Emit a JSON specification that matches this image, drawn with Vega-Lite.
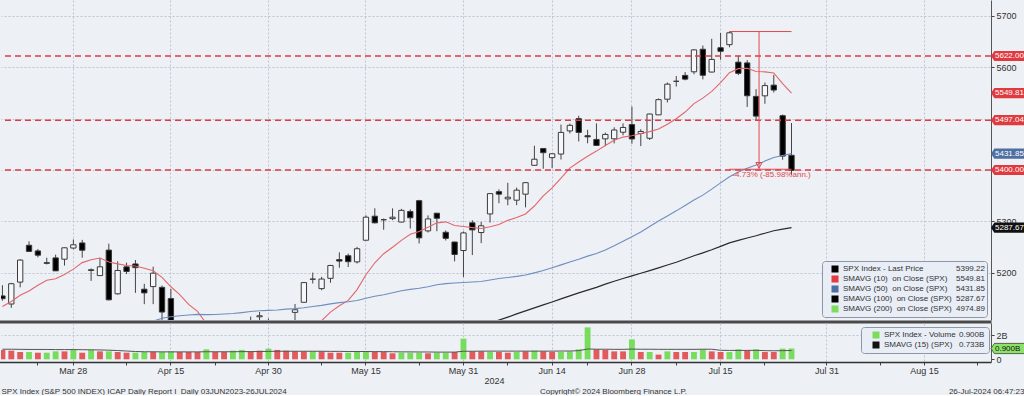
{
"$schema": "https://vega.github.io/schema/vega-lite/v6.json",
"padding": 0,
"autosize": {"type": "pad"},
"background": "#edf0f5",
"spacing": 3,
"bounds": "flush",
"config": {
  "font": "Liberation Sans",
  "view": {"fill": "#e3e9f4", "stroke": null},
  "axis": {"labelFont": "Liberation Sans", "labelFontSize": 9, "labelColor": "#333333", "tickColor": "#444444", "tickSize": 3, "domainColor": "#555555", "gridColor": "#bcc4d2", "gridDash": [2, 2], "titleFont": "Liberation Sans", "titleFontWeight": "normal", "titleFontSize": 8, "titleColor": "#333333", "labelOverlap": false},
  "legend": {"labelFont": "Liberation Sans", "labelFontSize": 8, "labelColor": "#333333"},
  "text": {"font": "Liberation Sans"}
},
"resolve": {"scale": {"x": "independent", "y": "independent", "fill": "independent", "shape": "independent"}, "legend": {"fill": "independent", "shape": "independent"}},
"datasets": {
"px": [
{"d":"2024-03-18","o":5154.77,"h":5175.60,"l":5145.47,"c":5149.42,"m10":5134.00,"v":0.78,"vd":"dn","vm":0.84},
{"d":"2024-03-19","o":5139.09,"h":5180.31,"l":5131.59,"c":5178.51,"m10":5143.98,"v":0.72,"vd":"dn","vm":0.84},
{"d":"2024-03-20","o":5181.69,"h":5226.19,"l":5171.55,"c":5224.62,"m10":5155.97,"v":0.61,"vd":"dn","vm":0.83},
{"d":"2024-03-21","o":5253.43,"h":5261.10,"l":5240.66,"c":5241.53,"m10":5164.39,"v":0.61,"vd":"up","vm":0.82},
{"d":"2024-03-22","o":5242.48,"h":5246.09,"l":5229.87,"c":5234.18,"m10":5175.44,"v":0.55,"vd":"dn","vm":0.82},
{"d":"2024-03-25","o":5219.52,"h":5229.09,"l":5216.09,"c":5218.19,"m10":5185.46,"v":0.55,"vd":"up","vm":0.82},
{"d":"2024-03-26","o":5228.85,"h":5235.16,"l":5203.42,"c":5203.58,"m10":5188.29,"v":0.66,"vd":"up","vm":0.81},
{"d":"2024-03-27","o":5226.31,"h":5249.26,"l":5213.92,"c":5248.49,"m10":5196.61,"v":0.66,"vd":"dn","vm":0.81},
{"d":"2024-03-28","o":5248.03,"h":5264.85,"l":5245.82,"c":5254.35,"m10":5207.00,"v":0.78,"vd":"up","vm":0.81},
{"d":"2024-04-01","o":5257.97,"h":5263.95,"l":5229.20,"c":5243.77,"m10":5219.66,"v":0.55,"vd":"dn","vm":0.80},
{"d":"2024-04-02","o":5204.29,"h":5208.34,"l":5184.05,"c":5205.81,"m10":5225.30,"v":0.78,"vd":"up","vm":0.79},
{"d":"2024-04-03","o":5194.37,"h":5228.75,"l":5194.37,"c":5211.49,"m10":5228.60,"v":0.66,"vd":"dn","vm":0.78},
{"d":"2024-04-04","o":5244.05,"h":5256.59,"l":5146.06,"c":5147.21,"m10":5220.86,"v":0.66,"vd":"up","vm":0.76},
{"d":"2024-04-05","o":5158.95,"h":5222.18,"l":5157.21,"c":5204.34,"m10":5217.14,"v":0.61,"vd":"dn","vm":0.73},
{"d":"2024-04-08","o":5211.37,"h":5219.57,"l":5197.35,"c":5202.39,"m10":5213.96,"v":0.55,"vd":"dn","vm":0.69},
{"d":"2024-04-09","o":5217.03,"h":5224.81,"l":5160.78,"c":5209.91,"m10":5213.13,"v":0.55,"vd":"up","vm":0.65},
{"d":"2024-04-10","o":5167.88,"h":5178.43,"l":5138.70,"c":5160.64,"m10":5208.84,"m50":5100.14,"v":0.61,"vd":"up","vm":0.63},
{"d":"2024-04-11","o":5172.95,"h":5211.78,"l":5138.77,"c":5199.06,"m10":5203.90,"m50":5105.62,"v":0.61,"vd":"dn","vm":0.63},
{"d":"2024-04-12","o":5171.51,"h":5175.03,"l":5107.94,"c":5123.41,"m10":5190.80,"m50":5111.17,"v":0.61,"vd":"up","vm":0.62},
{"d":"2024-04-15","o":5149.67,"h":5168.43,"l":5052.47,"c":5061.82,"m10":5172.61,"m50":5114.29,"v":0.66,"vd":"up","vm":0.62},
{"d":"2024-04-16","o":5064.59,"h":5079.84,"l":5039.83,"c":5051.41,"m10":5157.17,"m50":5116.14,"v":0.61,"vd":"dn","vm":0.62},
{"d":"2024-04-17","o":5068.97,"h":5077.96,"l":5007.25,"c":5022.21,"m10":5138.24,"m50":5117.73,"v":0.61,"vd":"dn","vm":0.62},
{"d":"2024-04-18","o":5031.52,"h":5056.66,"l":5001.89,"c":5011.12,"m10":5124.63,"m50":5118.87,"v":0.61,"vd":"dn","vm":0.62},
{"d":"2024-04-19","o":5005.44,"h":5019.02,"l":4953.56,"c":4967.23,"m10":5100.92,"m50":5118.31,"v":0.83,"vd":"up","vm":0.63},
{"d":"2024-04-22","o":4987.33,"h":5038.84,"l":4969.40,"c":5010.60,"m10":5081.74,"m50":5118.57,"v":0.61,"vd":"dn","vm":0.63},
{"d":"2024-04-23","o":5028.85,"h":5076.12,"l":5027.96,"c":5070.55,"m10":5067.81,"m50":5119.44,"v":0.61,"vd":"dn","vm":0.63},
{"d":"2024-04-24","o":5084.86,"h":5089.48,"l":5047.02,"c":5071.63,"m10":5058.90,"m50":5120.44,"v":0.72,"vd":"up","vm":0.63},
{"d":"2024-04-25","o":5019.88,"h":5057.75,"l":4990.58,"c":5048.42,"m10":5043.84,"m50":5122.35,"v":0.78,"vd":"up","vm":0.64},
{"d":"2024-04-26","o":5084.65,"h":5114.62,"l":5073.14,"c":5099.96,"m10":5041.50,"m50":5124.33,"v":0.66,"vd":"dn","vm":0.64},
{"d":"2024-04-29","o":5114.13,"h":5123.49,"l":5088.65,"c":5116.17,"m10":5046.93,"m50":5126.06,"v":0.72,"vd":"dn","vm":0.65},
{"d":"2024-04-30","o":5103.78,"h":5110.83,"l":5035.31,"c":5035.69,"m10":5045.36,"m50":5126.66,"v":0.89,"vd":"up","vm":0.66},
{"d":"2024-05-01","o":5029.03,"h":5096.12,"l":5013.45,"c":5018.39,"m10":5044.98,"m50":5127.52,"v":0.78,"vd":"dn","vm":0.67},
{"d":"2024-05-02","o":5049.32,"h":5073.21,"l":5011.05,"c":5064.20,"m10":5050.28,"m50":5129.17,"v":0.72,"vd":"dn","vm":0.67},
{"d":"2024-05-03","o":5122.78,"h":5139.12,"l":5101.22,"c":5127.79,"m10":5066.34,"m50":5129.98,"v":0.66,"vd":"dn","vm":0.67},
{"d":"2024-05-06","o":5142.42,"h":5181.00,"l":5142.42,"c":5180.74,"m10":5083.35,"m50":5131.82,"v":0.66,"vd":"dn","vm":0.67},
{"d":"2024-05-07","o":5187.20,"h":5200.23,"l":5178.96,"c":5187.70,"m10":5095.07,"m50":5134.19,"v":0.66,"vd":"up","vm":0.67},
{"d":"2024-05-08","o":5168.98,"h":5191.95,"l":5165.86,"c":5187.67,"m10":5106.67,"m50":5136.38,"v":0.66,"vd":"dn","vm":0.67},
{"d":"2024-05-09","o":5189.03,"h":5215.30,"l":5180.41,"c":5214.08,"m10":5123.24,"m50":5139.26,"v":0.55,"vd":"dn","vm":0.66},
{"d":"2024-05-10","o":5225.49,"h":5239.66,"l":5209.68,"c":5222.68,"m10":5135.51,"m50":5141.79,"v":0.55,"vd":"dn","vm":0.66},
{"d":"2024-05-13","o":5233.08,"h":5237.26,"l":5211.16,"c":5221.42,"m10":5146.04,"m50":5143.48,"v":0.55,"vd":"up","vm":0.65},
{"d":"2024-05-14","o":5221.10,"h":5250.37,"l":5217.98,"c":5246.68,"m10":5167.14,"m50":5145.79,"v":0.61,"vd":"up","vm":0.65},
{"d":"2024-05-15","o":5263.26,"h":5311.76,"l":5263.26,"c":5308.15,"m10":5196.11,"m50":5150.38,"v":0.66,"vd":"up","vm":0.65},
{"d":"2024-05-16","o":5310.07,"h":5325.49,"l":5296.19,"c":5297.10,"m10":5219.40,"m50":5154.23,"v":0.61,"vd":"dn","vm":0.64},
{"d":"2024-05-17","o":5303.10,"h":5305.45,"l":5283.59,"c":5303.27,"m10":5236.95,"m50":5157.15,"v":0.61,"vd":"dn","vm":0.64},
{"d":"2024-05-20","o":5305.35,"h":5325.32,"l":5302.40,"c":5308.13,"m10":5249.69,"m50":5160.84,"v":0.50,"vd":"dn","vm":0.63},
{"d":"2024-05-21","o":5298.69,"h":5324.32,"l":5297.87,"c":5321.41,"m10":5263.06,"m50":5164.91,"v":0.55,"vd":"up","vm":0.62},
{"d":"2024-05-22","o":5319.28,"h":5323.18,"l":5286.01,"c":5307.01,"m10":5274.99,"m50":5167.54,"v":0.55,"vd":"up","vm":0.62},
{"d":"2024-05-23","o":5340.26,"h":5341.88,"l":5256.93,"c":5267.84,"m10":5280.37,"m50":5169.59,"v":0.55,"vd":"up","vm":0.61},
{"d":"2024-05-24","o":5281.45,"h":5311.65,"l":5278.39,"c":5304.72,"m10":5288.57,"m50":5172.68,"v":0.50,"vd":"dn","vm":0.61},
{"d":"2024-05-28","o":5315.91,"h":5315.91,"l":5280.89,"c":5306.04,"m10":5297.04,"m50":5176.45,"v":0.55,"vd":"up","vm":0.60},
{"d":"2024-05-29","o":5278.73,"h":5282.27,"l":5262.70,"c":5266.95,"m10":5299.06,"m50":5178.81,"v":0.55,"vd":"up","vm":0.60},
{"d":"2024-05-30","o":5259.77,"h":5260.21,"l":5222.10,"c":5235.48,"m10":5291.80,"m50":5179.94,"v":0.61,"vd":"dn","vm":0.60},
{"d":"2024-05-31","o":5243.21,"h":5280.33,"l":5191.68,"c":5277.51,"m10":5289.84,"m50":5181.00,"v":1.72,"vd":"up","vm":0.67},
{"d":"2024-06-03","o":5297.15,"h":5302.11,"l":5234.32,"c":5283.40,"m10":5287.85,"m50":5181.84,"v":0.66,"vd":"dn","vm":0.67},
{"d":"2024-06-04","o":5278.24,"h":5298.80,"l":5257.63,"c":5291.34,"m10":5286.17,"m50":5182.98,"v":0.66,"vd":"dn","vm":0.68},
{"d":"2024-06-05","o":5314.48,"h":5354.16,"l":5297.64,"c":5354.03,"m10":5289.43,"m50":5185.70,"m100":5102.06,"v":0.61,"vd":"up","vm":0.68},
{"d":"2024-06-06","o":5357.80,"h":5362.35,"l":5335.36,"c":5352.96,"m10":5294.03,"m50":5188.69,"m100":5107.75,"v":0.61,"vd":"dn","vm":0.68},
{"d":"2024-06-07","o":5343.81,"h":5375.08,"l":5331.33,"c":5346.99,"m10":5301.94,"m50":5190.66,"m100":5113.56,"v":0.55,"vd":"dn","vm":0.68},
{"d":"2024-06-10","o":5341.22,"h":5365.79,"l":5331.52,"c":5360.79,"m10":5307.55,"m50":5192.79,"m100":5119.78,"v":0.61,"vd":"up","vm":0.68},
{"d":"2024-06-11","o":5353.00,"h":5375.95,"l":5327.25,"c":5375.32,"m10":5314.48,"m50":5195.42,"m100":5125.72,"v":0.66,"vd":"dn","vm":0.68},
{"d":"2024-06-12","o":5409.13,"h":5447.25,"l":5409.13,"c":5421.03,"m10":5329.89,"m50":5199.72,"m100":5131.54,"v":0.72,"vd":"up","vm":0.68},
{"d":"2024-06-13","o":5441.93,"h":5441.93,"l":5402.51,"c":5433.74,"m10":5349.71,"m50":5204.17,"m100":5137.37,"v":0.66,"vd":"dn","vm":0.68},
{"d":"2024-06-14","o":5424.08,"h":5432.39,"l":5403.75,"c":5431.60,"m10":5365.12,"m50":5209.85,"m100":5143.04,"v":0.61,"vd":"dn","vm":0.68},
{"d":"2024-06-17","o":5431.11,"h":5488.50,"l":5420.40,"c":5473.23,"m10":5384.10,"m50":5215.23,"m100":5149.09,"v":0.61,"vd":"up","vm":0.69},
{"d":"2024-06-18","o":5476.15,"h":5490.38,"l":5471.32,"c":5487.03,"m10":5403.67,"m50":5220.93,"m100":5155.01,"v":0.66,"vd":"up","vm":0.69},
{"d":"2024-06-20","o":5499.99,"h":5505.53,"l":5455.56,"c":5473.17,"m10":5415.59,"m50":5226.19,"m100":5160.84,"v":0.83,"vd":"up","vm":0.72},
{"d":"2024-06-21","o":5466.77,"h":5478.31,"l":5452.03,"c":5464.62,"m10":5426.75,"m50":5232.27,"m100":5166.20,"v":2.66,"vd":"up","vm":0.86},
{"d":"2024-06-24","o":5459.58,"h":5490.66,"l":5447.59,"c":5447.87,"m10":5436.84,"m50":5237.25,"m100":5171.43,"v":0.83,"vd":"dn","vm":0.84},
{"d":"2024-06-25","o":5460.73,"h":5472.88,"l":5446.56,"c":5469.30,"m10":5447.69,"m50":5244.16,"m100":5177.67,"v":0.78,"vd":"dn","vm":0.84},
{"d":"2024-06-26","o":5460.71,"h":5483.14,"l":5451.87,"c":5477.90,"m10":5457.95,"m50":5252.49,"m100":5183.39,"v":0.66,"vd":"dn","vm":0.83},
{"d":"2024-06-27","o":5473.59,"h":5490.81,"l":5467.54,"c":5482.87,"m10":5464.13,"m50":5261.11,"m100":5188.63,"v":0.66,"vd":"dn","vm":0.83},
{"d":"2024-06-28","o":5488.48,"h":5523.64,"l":5451.12,"c":5460.48,"m10":5466.81,"m50":5269.88,"m100":5193.81,"v":1.66,"vd":"up","vm":0.85},
{"d":"2024-07-01","o":5471.08,"h":5479.55,"l":5446.53,"c":5475.09,"m10":5471.16,"m50":5279.16,"m100":5199.01,"v":0.61,"vd":"dn","vm":0.84},
{"d":"2024-07-02","o":5461.84,"h":5509.69,"l":5458.43,"c":5509.01,"m10":5474.73,"m50":5289.99,"m100":5204.15,"v":0.61,"vd":"up","vm":0.84},
{"d":"2024-07-03","o":5507.44,"h":5539.27,"l":5507.42,"c":5537.02,"m10":5479.73,"m50":5300.52,"m100":5209.54,"v":0.39,"vd":"dn","vm":0.83},
{"d":"2024-07-05","o":5537.91,"h":5570.33,"l":5531.63,"c":5567.19,"m10":5489.14,"m50":5310.46,"m100":5214.95,"v":0.66,"vd":"up","vm":0.83},
{"d":"2024-07-08","o":5572.75,"h":5583.11,"l":5562.51,"c":5572.85,"m10":5499.96,"m50":5320.48,"m100":5220.46,"v":0.61,"vd":"dn","vm":0.83},
{"d":"2024-07-09","o":5584.24,"h":5590.75,"l":5574.57,"c":5576.98,"m10":5512.87,"m50":5331.05,"m100":5226.70,"v":0.61,"vd":"dn","vm":0.83},
{"d":"2024-07-10","o":5591.26,"h":5635.39,"l":5586.44,"c":5633.91,"m10":5529.33,"m50":5341.73,"m100":5233.03,"v":0.61,"vd":"up","vm":0.83},
{"d":"2024-07-11","o":5635.21,"h":5642.45,"l":5576.53,"c":5584.54,"m10":5539.99,"m50":5351.10,"m100":5238.58,"v":0.83,"vd":"up","vm":0.84},
{"d":"2024-07-12","o":5590.76,"h":5655.56,"l":5590.44,"c":5615.35,"m10":5553.24,"m50":5362.69,"m100":5244.68,"v":0.66,"vd":"dn","vm":0.84},
{"d":"2024-07-15","o":5638.16,"h":5666.94,"l":5614.75,"c":5631.22,"m10":5570.32,"m50":5374.95,"m100":5251.23,"v":0.61,"vd":"dn","vm":0.75},
{"d":"2024-07-16","o":5644.09,"h":5669.67,"l":5639.02,"c":5667.20,"m10":5589.53,"m50":5387.01,"m100":5258.09,"v":0.61,"vd":"up","vm":0.74},
{"d":"2024-07-17","o":5610.07,"h":5622.49,"l":5584.81,"c":5588.27,"m10":5597.45,"m50":5396.22,"m100":5263.10,"v":0.83,"vd":"up","vm":0.74},
{"d":"2024-07-18","o":5608.56,"h":5614.05,"l":5522.81,"c":5544.59,"m10":5598.21,"m50":5403.49,"m100":5267.66,"v":0.72,"vd":"dn","vm":0.74},
{"d":"2024-07-19","o":5543.37,"h":5557.50,"l":5497.04,"c":5505.00,"m10":5591.99,"m50":5409.84,"m100":5272.01,"v":0.83,"vd":"up","vm":0.75},
{"d":"2024-07-22","o":5544.44,"h":5570.36,"l":5529.04,"c":5564.41,"m10":5591.15,"m50":5417.38,"m100":5276.88,"v":0.61,"vd":"dn","vm":0.72},
{"d":"2024-07-23","o":5565.30,"h":5585.34,"l":5550.90,"c":5555.74,"m10":5589.02,"m50":5424.21,"m100":5281.74,"v":0.61,"vd":"dn","vm":0.71},
{"d":"2024-07-24","o":5505.84,"h":5508.04,"l":5419.98,"c":5427.13,"m10":5568.35,"m50":5428.30,"m100":5285.04,"v":0.89,"vd":"up","vm":0.72},
{"d":"2024-07-25","o":5428.70,"h":5491.59,"l":5390.95,"c":5399.22,"m10":5549.81,"m50":5431.85,"m100":5287.67,"v":0.90,"vd":"up","vm":0.733}
],
"levels": [{"v": 5622.00}, {"v": 5497.04}, {"v": 5400.00}],
"tags": [{"v": 5622.00, "k": "lvl"}, {"v": 5549.81, "k": "m10"}, {"v": 5497.04, "k": "lvl"}, {"v": 5431.85, "k": "m50"}, {"v": 5400.00, "k": "lvl"}, {"v": 5287.67, "k": "m100"}],
"measH": [{"d": "2024-07-16", "d2": "2024-07-25", "hi": 5669.67, "lo": 5401.5, "t": "-4.73% (-85.98%ann.)"}],
"measV": [{"d": "2024-07-19", "hi": 5669.67, "lo": 5401.5}],
"leg1": [
  {"name": "SPX Index - Last Price", "val": "5399.22"},
  {"name": "SMAVG (10)\u00a0 on Close (SPX)", "val": "5549.81"},
  {"name": "SMAVG (50)\u00a0 on Close (SPX)", "val": "5431.85"},
  {"name": "SMAVG (100)\u00a0 on Close (SPX)", "val": "5287.67"},
  {"name": "SMAVG (200)\u00a0 on Close (SPX)", "val": "4974.89"}
],
"vtag": [{"v": 0.9, "t": "0.900B"}],
"leg2": [
  {"vname": "SPX Index - Volume", "vval": "0.900B"},
  {"vname": "SMAVG (15) (SPX)", "vval": "0.733B"}
]
},
"vconcat": [
{
"width": 990, "height": 320,
"layer": [
  {"data": {"name": "px"},
   "encoding": {"x": {"field": "d", "type": "ordinal",
     "scale": {"domain": ["2024-03-18","2024-03-19","2024-03-20","2024-03-21","2024-03-22","2024-03-25","2024-03-26","2024-03-27","2024-03-28","2024-04-01","2024-04-02","2024-04-03","2024-04-04","2024-04-05","2024-04-08","2024-04-09","2024-04-10","2024-04-11","2024-04-12","2024-04-15","2024-04-16","2024-04-17","2024-04-18","2024-04-19","2024-04-22","2024-04-23","2024-04-24","2024-04-25","2024-04-26","2024-04-29","2024-04-30","2024-05-01","2024-05-02","2024-05-03","2024-05-06","2024-05-07","2024-05-08","2024-05-09","2024-05-10","2024-05-13","2024-05-14","2024-05-15","2024-05-16","2024-05-17","2024-05-20","2024-05-21","2024-05-22","2024-05-23","2024-05-24","2024-05-28","2024-05-29","2024-05-30","2024-05-31","2024-06-03","2024-06-04","2024-06-05","2024-06-06","2024-06-07","2024-06-10","2024-06-11","2024-06-12","2024-06-13","2024-06-14","2024-06-17","2024-06-18","2024-06-20","2024-06-21","2024-06-24","2024-06-25","2024-06-26","2024-06-27","2024-06-28","2024-07-01","2024-07-02","2024-07-03","2024-07-05","2024-07-08","2024-07-09","2024-07-10","2024-07-11","2024-07-12","2024-07-15","2024-07-16","2024-07-17","2024-07-18","2024-07-19","2024-07-22","2024-07-23","2024-07-24","2024-07-25","2024-07-26","2024-07-29","2024-07-30","2024-07-31","2024-08-01","2024-08-02","2024-08-05","2024-08-06","2024-08-07","2024-08-08","2024-08-09","2024-08-12","2024-08-13","2024-08-14","2024-08-15","2024-08-16","2024-08-19","2024-08-20","2024-08-21","2024-08-22","2024-08-23","2024-08-26"], "range": [-3, 990], "paddingInner": 0, "paddingOuter": 0},
     "axis": {"values": ["2024-03-28","2024-04-15","2024-04-30","2024-05-15","2024-05-31","2024-06-14","2024-06-28","2024-07-15","2024-07-31","2024-08-15"], "labels": false, "ticks": false, "grid": true, "domainWidth": 3, "domainColor": "#4a4a4a", "offset": 1.5, "title": "Copyright\u00a9 2024 Bloomberg Finance L.P.", "titleX": 612, "titleY": 69.5, "titleAlign": "center", "titleBaseline": "middle"}}},
   "layer": [
     {"mark": {"type": "rule", "color": "#444444", "strokeWidth": 1, "clip": true},
      "encoding": {"y": {"field": "l", "type": "quantitative", "scale": {"domain": [5107.9, 5731.1], "nice": false, "zero": false},
        "axis": {"orient": "right", "values": [5200, 5300, 5400, 5500, 5600, 5700], "format": "d", "labelOverlap": false, "labels": true, "ticks": true, "grid": true, "labelPadding": 2, "labelColor": "#333333", "labelFontSize": 9, "title": "26-Jul-2024 06:47:23", "titleAngle": 0, "titleX": 33, "titleY": 391, "titleAlign": "right", "titleBaseline": "middle"}},
        "y2": {"field": "h"}}},
     {"mark": {"type": "bar", "clip": true, "width": {"band": 0.6}, "stroke": "#3a3a3a", "strokeWidth": 1},
      "encoding": {"y": {"field": "o", "type": "quantitative", "scale": {"domain": [5107.9, 5731.1], "nice": false, "zero": false}}, "y2": {"field": "c"},
        "fill": {"condition": {"test": "datum.c < datum.o", "value": "#000000"}, "value": "#f6f7fa"}}},
     {"mark": {"type": "line", "clip": true, "color": "#e2676c", "strokeWidth": 1.1},
      "encoding": {"y": {"field": "m10", "type": "quantitative", "scale": {"domain": [5107.9, 5731.1], "nice": false, "zero": false}}}},
     {"mark": {"type": "line", "clip": true, "color": "#6f8ec0", "strokeWidth": 1.1},
      "encoding": {"y": {"field": "m50", "type": "quantitative", "scale": {"domain": [5107.9, 5731.1], "nice": false, "zero": false}}}},
     {"mark": {"type": "line", "clip": true, "color": "#2a2a2a", "strokeWidth": 1.2},
      "encoding": {"y": {"field": "m100", "type": "quantitative", "scale": {"domain": [5107.9, 5731.1], "nice": false, "zero": false}}}}
   ]},
  {"data": {"name": "levels"},
   "mark": {"type": "rule", "color": "#e03a3f", "strokeWidth": 1.5, "strokeDash": [6, 4]},
   "encoding": {"y": {"field": "v", "type": "quantitative", "scale": {"domain": [5107.9, 5731.1], "nice": false, "zero": false}}}},
  {"data": {"name": "measH"},
   "encoding": {"x": {"field": "d", "type": "ordinal", "scale": {"domain": ["2024-03-18","2024-03-19","2024-03-20","2024-03-21","2024-03-22","2024-03-25","2024-03-26","2024-03-27","2024-03-28","2024-04-01","2024-04-02","2024-04-03","2024-04-04","2024-04-05","2024-04-08","2024-04-09","2024-04-10","2024-04-11","2024-04-12","2024-04-15","2024-04-16","2024-04-17","2024-04-18","2024-04-19","2024-04-22","2024-04-23","2024-04-24","2024-04-25","2024-04-26","2024-04-29","2024-04-30","2024-05-01","2024-05-02","2024-05-03","2024-05-06","2024-05-07","2024-05-08","2024-05-09","2024-05-10","2024-05-13","2024-05-14","2024-05-15","2024-05-16","2024-05-17","2024-05-20","2024-05-21","2024-05-22","2024-05-23","2024-05-24","2024-05-28","2024-05-29","2024-05-30","2024-05-31","2024-06-03","2024-06-04","2024-06-05","2024-06-06","2024-06-07","2024-06-10","2024-06-11","2024-06-12","2024-06-13","2024-06-14","2024-06-17","2024-06-18","2024-06-20","2024-06-21","2024-06-24","2024-06-25","2024-06-26","2024-06-27","2024-06-28","2024-07-01","2024-07-02","2024-07-03","2024-07-05","2024-07-08","2024-07-09","2024-07-10","2024-07-11","2024-07-12","2024-07-15","2024-07-16","2024-07-17","2024-07-18","2024-07-19","2024-07-22","2024-07-23","2024-07-24","2024-07-25","2024-07-26","2024-07-29","2024-07-30","2024-07-31","2024-08-01","2024-08-02","2024-08-05","2024-08-06","2024-08-07","2024-08-08","2024-08-09","2024-08-12","2024-08-13","2024-08-14","2024-08-15","2024-08-16","2024-08-19","2024-08-20","2024-08-21","2024-08-22","2024-08-23","2024-08-26"], "range": [-3, 990], "paddingInner": 0, "paddingOuter": 0}}},
   "layer": [
     {"mark": {"type": "rule", "color": "#e0494d", "strokeWidth": 1},
      "encoding": {"x2": {"field": "d2"}, "y": {"field": "hi", "type": "quantitative", "scale": {"domain": [5107.9, 5731.1], "nice": false, "zero": false}}}},
     {"mark": {"type": "rule", "color": "#e0494d", "strokeWidth": 1},
      "encoding": {"x2": {"field": "d2"}, "y": {"field": "lo", "type": "quantitative", "scale": {"domain": [5107.9, 5731.1], "nice": false, "zero": false}}}},
     {"mark": {"type": "text", "align": "left", "baseline": "top", "dx": 3, "dy": 2, "color": "#e0494d", "fontSize": 8},
      "encoding": {"y": {"field": "lo", "type": "quantitative", "scale": {"domain": [5107.9, 5731.1], "nice": false, "zero": false}}, "text": {"field": "t"}}}
   ]},
  {"data": {"name": "measV"},
   "encoding": {"x": {"field": "d", "type": "ordinal", "scale": {"domain": ["2024-03-18","2024-03-19","2024-03-20","2024-03-21","2024-03-22","2024-03-25","2024-03-26","2024-03-27","2024-03-28","2024-04-01","2024-04-02","2024-04-03","2024-04-04","2024-04-05","2024-04-08","2024-04-09","2024-04-10","2024-04-11","2024-04-12","2024-04-15","2024-04-16","2024-04-17","2024-04-18","2024-04-19","2024-04-22","2024-04-23","2024-04-24","2024-04-25","2024-04-26","2024-04-29","2024-04-30","2024-05-01","2024-05-02","2024-05-03","2024-05-06","2024-05-07","2024-05-08","2024-05-09","2024-05-10","2024-05-13","2024-05-14","2024-05-15","2024-05-16","2024-05-17","2024-05-20","2024-05-21","2024-05-22","2024-05-23","2024-05-24","2024-05-28","2024-05-29","2024-05-30","2024-05-31","2024-06-03","2024-06-04","2024-06-05","2024-06-06","2024-06-07","2024-06-10","2024-06-11","2024-06-12","2024-06-13","2024-06-14","2024-06-17","2024-06-18","2024-06-20","2024-06-21","2024-06-24","2024-06-25","2024-06-26","2024-06-27","2024-06-28","2024-07-01","2024-07-02","2024-07-03","2024-07-05","2024-07-08","2024-07-09","2024-07-10","2024-07-11","2024-07-12","2024-07-15","2024-07-16","2024-07-17","2024-07-18","2024-07-19","2024-07-22","2024-07-23","2024-07-24","2024-07-25","2024-07-26","2024-07-29","2024-07-30","2024-07-31","2024-08-01","2024-08-02","2024-08-05","2024-08-06","2024-08-07","2024-08-08","2024-08-09","2024-08-12","2024-08-13","2024-08-14","2024-08-15","2024-08-16","2024-08-19","2024-08-20","2024-08-21","2024-08-22","2024-08-23","2024-08-26"], "range": [-3, 990], "paddingInner": 0, "paddingOuter": 0}}},
   "layer": [
     {"mark": {"type": "rule", "color": "#e0494d", "strokeWidth": 1, "xOffset": 3},
      "encoding": {"y": {"field": "hi", "type": "quantitative", "scale": {"domain": [5107.9, 5731.1], "nice": false, "zero": false}}, "y2": {"field": "lo"}}},
     {"mark": {"type": "point", "shape": "triangle-down", "filled": false, "color": "#e0494d", "size": 40, "strokeWidth": 1, "opacity": 1, "xOffset": 3, "yOffset": -4},
      "encoding": {"y": {"field": "lo", "type": "quantitative", "scale": {"domain": [5107.9, 5731.1], "nice": false, "zero": false}}}}
   ]},
  {"data": {"name": "tags"},
   "layer": [
     {"mark": {"type": "point", "shape": "M-1,0L-0.8,-0.3L1,-0.3L1,0.3L-0.8,0.3Z", "size": 1156, "filled": true, "opacity": 1, "strokeWidth": 0, "xOffset": 17},
      "encoding": {"x": {"value": "width"}, "y": {"field": "v", "type": "quantitative", "scale": {"domain": [5107.9, 5731.1], "nice": false, "zero": false}},
        "fill": {"condition": [{"test": "datum.k === 'm50'", "value": "#4f6fa3"}, {"test": "datum.k === 'm100'", "value": "#111111"}], "value": "#e03a3f"}}},
     {"mark": {"type": "text", "align": "left", "baseline": "middle", "dx": 4, "color": "#ffffff", "fontSize": 8},
      "encoding": {"x": {"value": "width"}, "y": {"field": "v", "type": "quantitative", "scale": {"domain": [5107.9, 5731.1], "nice": false, "zero": false}},
        "text": {"field": "v", "type": "quantitative", "format": ".2f"}}}
   ]},
  {"data": {"name": "leg1"},
   "mark": {"type": "square", "opacity": 0},
   "encoding": {"fill": {"field": "name", "type": "nominal", "sort": null,
     "scale": {"range": ["#000000", "#e23b40", "#4f6fa3", "#000000", "#7ddc5a"]},
     "legend": {"orient": "none", "legendX": 821, "legendY": 261, "title": null, "padding": 4, "fillColor": "#e8edf6", "strokeColor": "#8e97a8", "cornerRadius": 3, "symbolType": "square", "symbolSize": 49, "symbolStrokeWidth": 0, "symbolOffset": 5, "labelOffset": 4, "rowPadding": 2, "labelLimit": 300, "labelExpr": "datum.label + '\u00a0\u00a0\u00a0\u00a0\u00a0\u00a0\u00a0\u00a0\u00a0\u00a0\u00a0\u00a0\u00a0\u00a0\u200b'", "encode": {"symbols": {"update": {"opacity": {"value": 1}}}}}}}},
  {"data": {"name": "leg1"},
   "mark": {"type": "point", "opacity": 0, "filled": true},
   "encoding": {"shape": {"field": "val", "type": "nominal", "sort": null,
     "scale": {"range": ["square"]},
     "legend": {"orient": "none", "legendX": 943, "legendY": 261, "title": null, "padding": 4, "symbolSize": 1, "symbolOpacity": 0, "symbolStrokeWidth": 0, "labelOffset": 0, "rowPadding": 2, "encode": {"symbols": {"update": {"opacity": {"value": 0}}}}}}}}
]
},
{
"width": 990, "height": 39,
"layer": [
  {"data": {"name": "px"},
   "encoding": {"x": {"field": "d", "type": "ordinal",
     "scale": {"domain": ["2024-03-18","2024-03-19","2024-03-20","2024-03-21","2024-03-22","2024-03-25","2024-03-26","2024-03-27","2024-03-28","2024-04-01","2024-04-02","2024-04-03","2024-04-04","2024-04-05","2024-04-08","2024-04-09","2024-04-10","2024-04-11","2024-04-12","2024-04-15","2024-04-16","2024-04-17","2024-04-18","2024-04-19","2024-04-22","2024-04-23","2024-04-24","2024-04-25","2024-04-26","2024-04-29","2024-04-30","2024-05-01","2024-05-02","2024-05-03","2024-05-06","2024-05-07","2024-05-08","2024-05-09","2024-05-10","2024-05-13","2024-05-14","2024-05-15","2024-05-16","2024-05-17","2024-05-20","2024-05-21","2024-05-22","2024-05-23","2024-05-24","2024-05-28","2024-05-29","2024-05-30","2024-05-31","2024-06-03","2024-06-04","2024-06-05","2024-06-06","2024-06-07","2024-06-10","2024-06-11","2024-06-12","2024-06-13","2024-06-14","2024-06-17","2024-06-18","2024-06-20","2024-06-21","2024-06-24","2024-06-25","2024-06-26","2024-06-27","2024-06-28","2024-07-01","2024-07-02","2024-07-03","2024-07-05","2024-07-08","2024-07-09","2024-07-10","2024-07-11","2024-07-12","2024-07-15","2024-07-16","2024-07-17","2024-07-18","2024-07-19","2024-07-22","2024-07-23","2024-07-24","2024-07-25","2024-07-26","2024-07-29","2024-07-30","2024-07-31","2024-08-01","2024-08-02","2024-08-05","2024-08-06","2024-08-07","2024-08-08","2024-08-09","2024-08-12","2024-08-13","2024-08-14","2024-08-15","2024-08-16","2024-08-19","2024-08-20","2024-08-21","2024-08-22","2024-08-23","2024-08-26"], "range": [-3, 990], "paddingInner": 0, "paddingOuter": 0},
     "axis": {"values": ["2024-03-22","2024-03-28","2024-04-08","2024-04-15","2024-04-22","2024-04-30","2024-05-08","2024-05-15","2024-05-23","2024-05-31","2024-06-07","2024-06-14","2024-06-21","2024-06-28","2024-07-08","2024-07-15","2024-07-22","2024-07-31","2024-08-08","2024-08-15","2024-08-23"],
       "labelExpr": "indexof(['2024-03-28','2024-04-15','2024-04-30','2024-05-15','2024-05-31','2024-06-14','2024-06-28','2024-07-15','2024-07-31','2024-08-15'], datum.value) >= 0 ? utcFormat(toDate(datum.value), '%b %d') : ''",
       "grid": true, "gridOpacity": {"condition": {"test": "indexof(['2024-03-28','2024-04-15','2024-04-30','2024-05-15','2024-05-31','2024-06-14','2024-06-28','2024-07-15','2024-07-31','2024-08-15'], datum.value) >= 0", "value": 1}, "value": 0},
       "labelAngle": 0, "labelOverlap": false, "labelPadding": 1, "tickSize": 3, "domainWidth": 1.5, "domainColor": "#333333",
       "title": "2024", "titleX": 493, "titleY": 18, "titleAlign": "center", "titleBaseline": "middle", "titleFontSize": 9}}},
   "layer": [
     {"mark": {"type": "bar", "clip": true, "width": {"band": 0.66}},
      "encoding": {"y": {"field": "v", "type": "quantitative", "scale": {"domain": [-0.225, 3.025], "nice": false, "zero": false},
        "axis": {"orient": "right", "values": [0, 2], "labelExpr": "datum.value === 2 ? '2B' : '0'", "labelOverlap": false, "grid": true, "gridOpacity": {"condition": {"test": "datum.value === 2", "value": 1}, "value": 0}, "labelPadding": 2,
          "title": "SPX Index (S&P 500 INDEX) ICAP Daily Report I\u00a0 Daily 03JUN2023-26JUL2024", "titleAngle": 0, "titleX": -990, "titleY": 68, "titleAlign": "left", "titleBaseline": "middle"}},
        "y2": {"datum": 0},
        "fill": {"condition": {"test": "datum.vd === 'up'", "value": "#78dc5c"}, "value": "#e25b5c"}}},
     {"mark": {"type": "line", "clip": true, "color": "#555555", "strokeWidth": 1},
      "encoding": {"y": {"field": "vm", "type": "quantitative", "scale": {"domain": [-0.225, 3.025], "nice": false, "zero": false}}}}
   ]},
  {"data": {"name": "vtag"},
   "layer": [
     {"mark": {"type": "point", "shape": "M-1,0L-0.8,-0.3L1,-0.3L1,0.3L-0.8,0.3Z", "size": 1156, "filled": true, "opacity": 1, "stroke": "#2e4a22", "strokeWidth": 0.8, "xOffset": 17},
      "encoding": {"x": {"value": "width"}, "y": {"field": "v", "type": "quantitative", "scale": {"domain": [-0.225, 3.025], "nice": false, "zero": false}}, "fill": {"value": "#8de16a"}}},
     {"mark": {"type": "text", "align": "left", "baseline": "middle", "dx": 4, "color": "#111111", "fontSize": 8},
      "encoding": {"x": {"value": "width"}, "y": {"field": "v", "type": "quantitative", "scale": {"domain": [-0.225, 3.025], "nice": false, "zero": false}}, "text": {"field": "t"}}}
   ]},
  {"data": {"name": "leg2"},
   "mark": {"type": "square", "opacity": 0},
   "encoding": {"fill": {"field": "vname", "type": "nominal", "sort": null,
     "scale": {"range": ["#7ddc5a", "#111111"]},
     "legend": {"orient": "none", "legendX": 860, "legendY": 4, "title": null, "padding": 4, "fillColor": "#e8edf6", "strokeColor": "#8e97a8", "cornerRadius": 3, "symbolType": "square", "symbolSize": 49, "symbolStrokeWidth": 0, "symbolOffset": 7, "labelOffset": 4, "rowPadding": 2, "labelLimit": 300, "labelExpr": "datum.label + '\u00a0\u00a0\u00a0\u00a0\u00a0\u00a0\u00a0\u00a0\u00a0\u00a0\u00a0\u00a0\u00a0\u200b'", "encode": {"symbols": {"update": {"opacity": {"value": 1}}}}}}}},
  {"data": {"name": "leg2"},
   "mark": {"type": "point", "opacity": 0, "filled": true},
   "encoding": {"shape": {"field": "vval", "type": "nominal", "sort": null,
     "scale": {"range": ["square"]},
     "legend": {"orient": "none", "legendX": 946, "legendY": 4, "title": null, "padding": 4, "symbolSize": 1, "symbolOpacity": 0, "symbolStrokeWidth": 0, "labelOffset": 0, "rowPadding": 2, "encode": {"symbols": {"update": {"opacity": {"value": 0}}}}}}}}
]
}
]
}
